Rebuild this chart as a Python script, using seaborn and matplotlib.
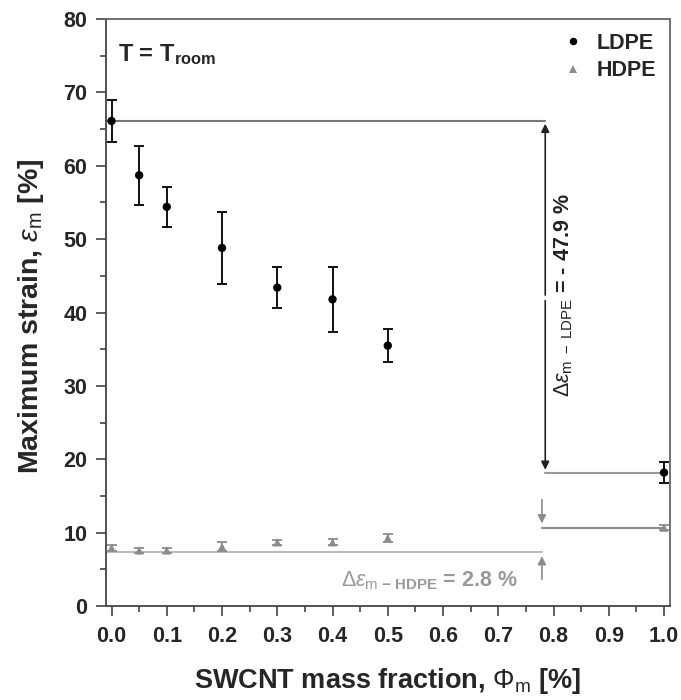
import matplotlib
matplotlib.use("Agg")
import matplotlib.pyplot as plt
import seaborn as sns
import pandas as pd
import numpy as np
from matplotlib.ticker import MultipleLocator

# data
phi = [0.0, 0.05, 0.1, 0.2, 0.3, 0.4, 0.5, 1.0]
ldpe = [66.1, 58.7, 54.4, 48.8, 43.4, 41.8, 35.5, 18.2]
ldpe_err = [2.9, 4.0, 2.7, 4.9, 2.8, 4.4, 2.3, 1.4]
hdpe = [7.95, 7.6, 7.6, 8.1, 8.7, 8.7, 9.3, 10.7]
hdpe_err = [0.4, 0.3, 0.3, 0.6, 0.3, 0.4, 0.5, 0.3]

sns.set_theme(style="ticks")
plt.rcParams['font.family'] = ['Liberation Sans', 'DejaVu Sans']
plt.rcParams['mathtext.fontset'] = 'custom'
plt.rcParams['mathtext.rm'] = 'Liberation Sans'
plt.rcParams['mathtext.bf'] = 'Liberation Sans:bold'
plt.rcParams['mathtext.it'] = 'Liberation Sans:italic'

fig = plt.figure(figsize=(6.81, 7.0), dpi=100)
ax = fig.add_axes([0.155, 0.134, 0.829, 0.839])

df = pd.DataFrame({"phi": phi * 2, "strain": ldpe + hdpe,
                   "err": ldpe_err + hdpe_err,
                   "type": ["LDPE"] * len(phi) + ["HDPE"] * len(phi)})

gray = "#8c8c8c"
ax.errorbar(phi, ldpe, yerr=ldpe_err, fmt="none", ecolor="black", elinewidth=1.3,
            capsize=3.8, capthick=1.3, zorder=3)
ax.errorbar(phi, hdpe, yerr=hdpe_err, fmt="none", ecolor=gray, elinewidth=1.3,
            capsize=3.5, capthick=1.3, zorder=3)
sns.scatterplot(data=df, x="phi", y="strain", hue="type", style="type",
                markers={"LDPE": "o", "HDPE": "^"},
                palette={"LDPE": "black", "HDPE": gray}, s=36, edgecolor=None,
                linewidth=0, ax=ax, zorder=4)

ax.set_xlim(-0.0108, 1.011)
ax.set_ylim(0, 80)
ax.xaxis.set_major_locator(MultipleLocator(0.1))
ax.xaxis.set_minor_locator(MultipleLocator(0.05))
ax.yaxis.set_major_locator(MultipleLocator(10))
ax.yaxis.set_minor_locator(MultipleLocator(5))
ax.set_xticklabels([f"{v:.1f}" for v in ax.get_xticks()])
ax.tick_params(which="major", direction="out", length=7, width=1.2, labelsize=15.5, color="#444444")
ax.tick_params(which="minor", direction="out", length=4, width=1.2, color="#444444")
for lab in ax.get_xticklabels() + ax.get_yticklabels():
    lab.set_fontweight("bold")
ax.tick_params(axis="x", pad=7)
ax.tick_params(axis="y", pad=6)
for s in ax.spines.values():
    s.set_color("#666666")
    s.set_linewidth(1.3)
ax.spines["left"].set_color("#444444")
ax.spines["bottom"].set_color("#444444")

ax.set_xlabel(r"SWCNT mass fraction, $\Phi_{\mathrm{m}}$ [%]", fontsize=19.5, fontweight="bold", labelpad=14)
ax.set_ylabel(r"Maximum strain, $\varepsilon_{\mathrm{m}}$ [%]", fontsize=20.5, fontweight="bold")
ax.yaxis.set_label_coords(-0.105, 0.494)

# legend
leg = ax.legend(loc="upper right", frameon=False, fontsize=15.5, handletextpad=0.5,
                handlelength=1.2, markerscale=0.9, borderaxespad=0.25, labelspacing=0.3)
for t in leg.get_texts():
    t.set_fontweight("bold")

ax.text(0.022, 0.96, r"T = T$_{\mathbf{room}}$", transform=ax.transAxes, fontsize=17,
        fontweight="bold", va="top", ha="left")

# LDPE annotation
xa = 0.785
ax.plot([-0.0108, xa], [ldpe[0], ldpe[0]], color="#777777", lw=1.5, zorder=2)
ax.plot([xa, 1.0], [ldpe[-1], ldpe[-1]], color="#999999", lw=1.5, zorder=2)
ax.annotate("", xy=(xa, ldpe[0]), xytext=(xa, 42), arrowprops=dict(arrowstyle="-|>", color="#222222", lw=1.2, mutation_scale=12))
ax.annotate("", xy=(xa, ldpe[-1]), xytext=(xa, 42), arrowprops=dict(arrowstyle="-|>", color="#222222", lw=1.2, mutation_scale=12))
ax.text(0.818, 42.4, r"$\Delta\varepsilon_{\mathrm{m\ -\ LDPE}}$ = - 47.9 %", rotation=90,
        fontsize=15.5, fontweight="bold", ha="center", va="center", color="#222222")

# HDPE annotation
ax.plot([-0.0108, 0.779], [7.4, 7.4], color="#bbbbbb", lw=1.5, zorder=2)
ax.annotate("", xy=(0.779, 7.2), xytext=(0.779, 3.3), arrowprops=dict(arrowstyle="-|>", color=gray, lw=1.2, mutation_scale=12))
ax.annotate("", xy=(0.779, 10.9), xytext=(0.779, 14.9), arrowprops=dict(arrowstyle="-|>", color=gray, lw=1.2, mutation_scale=12))
ax.plot([0.779, 1.0], [10.7, 10.7], color=gray, lw=1.5, zorder=2)
ax.text(0.576, 3.5, r"$\Delta\varepsilon_{\mathrm{m}\ \mathbf{-\ HDPE}}$ = 2.8 %", fontsize=15.5,
        fontweight="bold", ha="center", va="center", color="#999999")

fig.savefig("out.png", dpi=100)
